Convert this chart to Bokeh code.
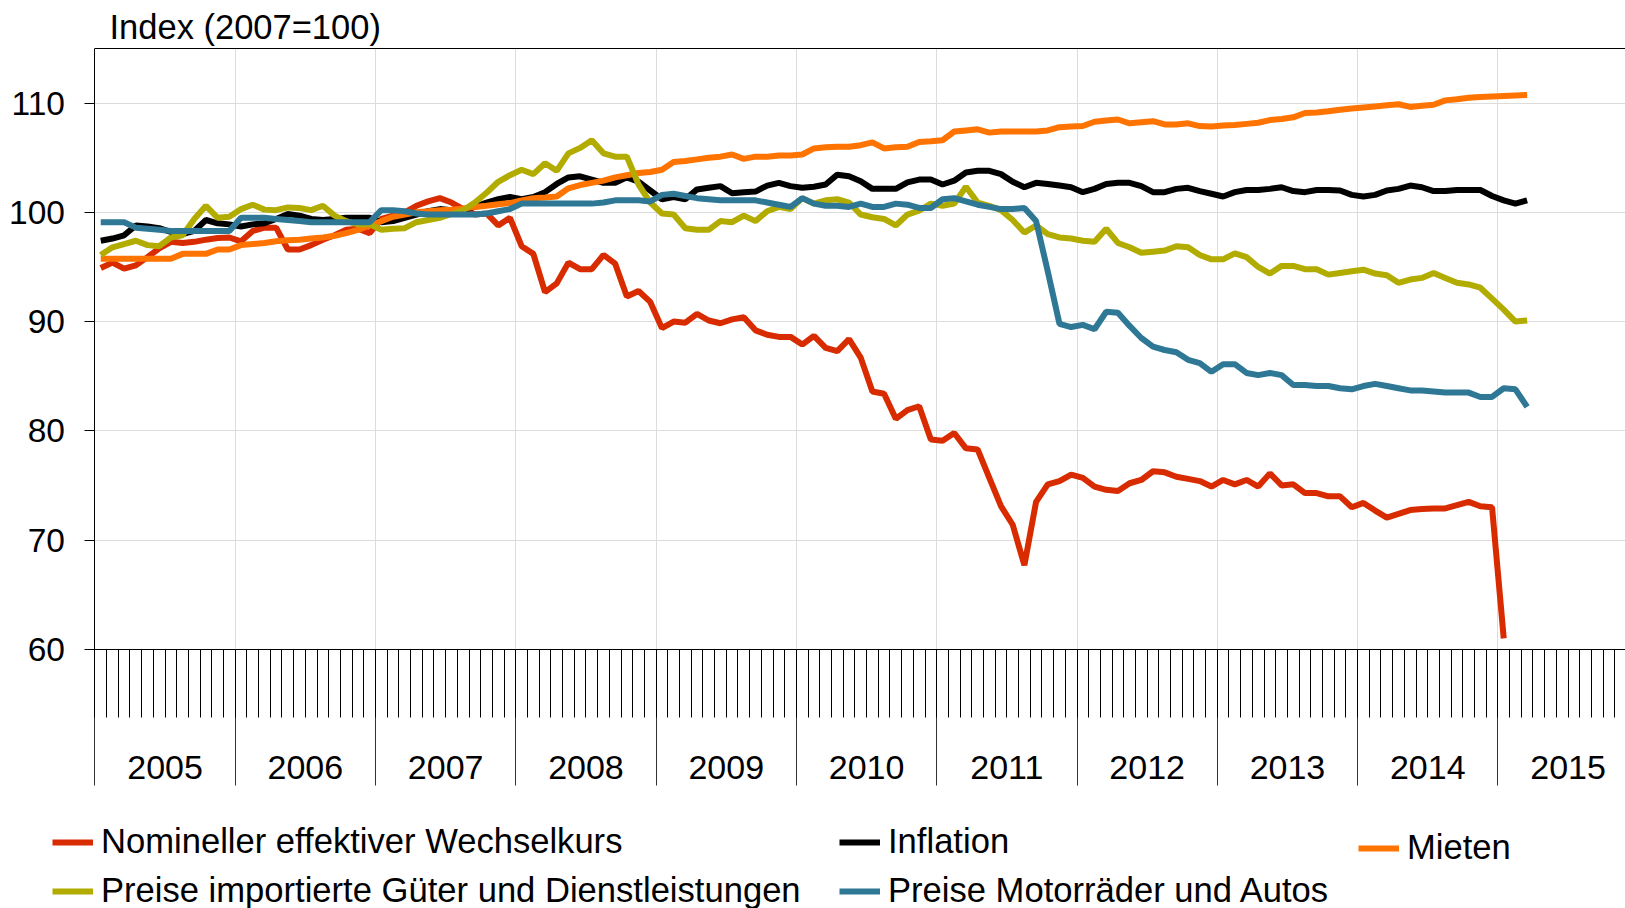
from bokeh.plotting import figure
from bokeh.models import (Range1d, LinearAxis, FixedTicker, Legend, LegendItem,
                          CustomJSTickFormatter, Grid)
from bokeh.embed import file_html
from bokeh.resources import INLINE

# ---------------- data ----------------
start_year = 2005
year_labels = ["2005", "2006", "2007", "2008", "2009", "2010",
               "2011", "2012", "2013", "2014", "2015"]
y_ticks = [60, 70, 80, 90, 100, 110]
y_top = 115
title_text = "Index (2007=100)"

series_names = ["Nomineller effektiver Wechselkurs", "Inflation", "Mieten",
                "Preise importierte Güter und Dienstleistungen",
                "Preise Motorräder und Autos"]
series_colors = ["#D92B00", "#000000", "#FF7300", "#B2AC00", "#2E7896"]

# monthly values, starting January 2005
wechselkurs = [
    94.9, 95.4, 94.85, 95.15, 95.9, 96.7, 97.3, 97.2, 97.3, 97.5, 97.65, 97.7,
    97.35, 98.3, 98.6, 98.6, 96.6, 96.6, 97.0, 97.5, 97.9, 98.4, 98.5, 98.1,
    99.4, 99.7, 100.0, 100.6, 101.0, 101.3, 100.9, 100.3, 99.8, 99.9, 98.8, 99.5,
    96.9, 96.2, 92.7, 93.5, 95.4, 94.8, 94.8, 96.1, 95.3, 92.3, 92.8, 91.8,
    89.4, 90.0, 89.9, 90.7, 90.1, 89.85, 90.2, 90.4, 89.2, 88.8, 88.6, 88.6,
    87.9, 88.7, 87.6, 87.3, 88.4, 86.7, 83.6, 83.4, 81.1, 81.9, 82.25, 79.2,
    79.1, 79.8, 78.4, 78.3, 75.7, 73.1, 71.4, 67.7, 73.5, 75.1, 75.4, 76.0,
    75.7, 74.9, 74.6, 74.5, 75.2, 75.5, 76.3, 76.2, 75.8, 75.6, 75.4, 74.9,
    75.5, 75.1, 75.5, 74.9, 76.1, 75.0, 75.1, 74.3, 74.3, 74.0, 74.0, 73.0,
    73.4, 72.7, 72.05, 72.4, 72.75, 72.85, 72.9, 72.9, 73.2, 73.5, 73.1, 73.0,
    61.0]

inflation = [
    97.4, 97.6, 97.9, 98.8, 98.7, 98.55, 98.2, 98.0, 98.3, 99.3, 99.0, 98.9,
    98.7, 98.9, 99.0, 99.4, 99.85, 99.7, 99.4, 99.3, 99.4, 99.5, 99.5, 99.5,
    99.1, 99.2, 99.5, 99.8, 100.1, 100.3, 100.2, 100.2, 100.5, 100.9, 101.2, 101.4,
    101.2, 101.4, 101.85, 102.6, 103.2, 103.3, 103.0, 102.7, 102.7, 103.2, 102.8, 102.0,
    101.2, 101.4, 101.2, 102.1, 102.25, 102.4, 101.75, 101.85, 101.9, 102.45, 102.7, 102.4,
    102.25, 102.35, 102.55, 103.45, 103.3, 102.85, 102.15, 102.15, 102.15, 102.75, 103.0, 103.0,
    102.55, 102.9, 103.65, 103.8, 103.8, 103.5, 102.8, 102.3, 102.7, 102.6, 102.45, 102.3,
    101.85, 102.15, 102.6, 102.7, 102.7, 102.4, 101.85, 101.85, 102.15, 102.25, 101.95, 101.7,
    101.45, 101.85, 102.05, 102.05, 102.15, 102.3, 101.95, 101.85, 102.05, 102.05, 102.0, 101.6,
    101.45, 101.6, 102.0, 102.15, 102.45, 102.3, 101.95, 101.95, 102.05, 102.05, 102.05, 101.5,
    101.1, 100.8, 101.1]

mieten = [
    95.75, 95.75, 95.75, 95.75, 95.75, 95.75, 95.75, 96.2, 96.2, 96.2, 96.6, 96.6,
    97.0, 97.1, 97.2, 97.35, 97.45, 97.5, 97.6, 97.7, 97.85, 98.1, 98.4, 98.8,
    99.2, 99.6, 99.8, 100.0, 100.1, 100.2, 100.25, 100.35, 100.5, 100.6, 100.75, 100.85,
    101.1, 101.3, 101.35, 101.45, 102.2, 102.5, 102.7, 102.9, 103.2, 103.4, 103.6, 103.7,
    103.9, 104.6, 104.7, 104.85, 105.0, 105.1, 105.3, 104.9, 105.1, 105.1, 105.2, 105.2,
    105.3, 105.85, 105.95, 106.0, 106.0, 106.15, 106.4, 105.85, 105.95, 106.0, 106.45, 106.5,
    106.6, 107.4, 107.5, 107.6, 107.3, 107.4, 107.4, 107.4, 107.4, 107.5, 107.8, 107.85,
    107.9, 108.3, 108.4, 108.5, 108.15, 108.25, 108.35, 108.05, 108.05, 108.15, 107.9, 107.85,
    107.95, 108.0, 108.1, 108.2, 108.45, 108.55, 108.7, 109.1, 109.15, 109.25, 109.4, 109.5,
    109.6, 109.7, 109.8, 109.9, 109.65, 109.75, 109.85, 110.25, 110.35, 110.5, 110.55, 110.6,
    110.65, 110.7, 110.75]

importpreise = [
    96.1, 96.8, 97.1, 97.4, 97.0, 96.9, 97.7, 97.9, 99.4, 100.6, 99.5, 99.6,
    100.3, 100.7, 100.25, 100.2, 100.45, 100.4, 100.2, 100.6, 99.7, 99.2, 98.9, 98.9,
    98.4, 98.5, 98.55, 99.1, 99.3, 99.5, 99.85, 100.2, 100.9, 101.8, 102.8, 103.4,
    103.9, 103.5, 104.5, 103.8, 105.4, 105.9, 106.6, 105.4, 105.1, 105.1, 102.55, 100.9,
    99.9, 99.8, 98.55, 98.4, 98.4, 99.2, 99.1, 99.7, 99.2, 100.1, 100.5, 100.3,
    101.3, 100.8, 101.1, 101.2, 100.9, 99.8, 99.55, 99.4, 98.8, 99.8, 100.15, 100.8,
    100.6, 100.8, 102.35, 100.9, 100.6, 100.2, 99.3, 98.15, 98.8, 98.0, 97.7, 97.6,
    97.4, 97.3, 98.5, 97.2, 96.8, 96.3, 96.4, 96.5, 96.9, 96.8, 96.1, 95.7,
    95.7, 96.25, 95.9, 95.0, 94.4, 95.1, 95.1, 94.8, 94.8, 94.3, 94.45, 94.6,
    94.75, 94.4, 94.25, 93.55, 93.85, 94.0, 94.45, 94.0, 93.55, 93.4, 93.1, 92.1,
    91.1, 90.0, 90.1]

motorraeder = [
    99.1, 99.1, 99.1, 98.6, 98.5, 98.4, 98.3, 98.3, 98.3, 98.3, 98.3, 98.3,
    99.5, 99.5, 99.5, 99.4, 99.3, 99.2, 99.1, 99.1, 99.1, 99.1, 99.1, 99.1,
    100.2, 100.2, 100.1, 99.9, 99.8, 99.8, 99.8, 99.8, 99.8, 99.9, 100.1, 100.3,
    100.8, 100.8, 100.8, 100.8, 100.8, 100.8, 100.8, 100.9, 101.1, 101.1, 101.1, 101.0,
    101.6, 101.7, 101.5, 101.3, 101.2, 101.1, 101.1, 101.1, 101.1, 100.9, 100.7, 100.5,
    101.3, 100.8, 100.6, 100.6, 100.5, 100.8, 100.5, 100.5, 100.8, 100.7, 100.4, 100.4,
    101.2, 101.3, 101.0, 100.7, 100.5, 100.3, 100.3, 100.4, 99.2, 94.6, 89.8, 89.5,
    89.7, 89.3, 90.9, 90.8, 89.6, 88.5, 87.7, 87.4, 87.2, 86.5, 86.2, 85.4,
    86.1, 86.1, 85.3, 85.1, 85.3, 85.1, 84.2, 84.2, 84.1, 84.1, 83.9, 83.8,
    84.1, 84.3, 84.1, 83.9, 83.7, 83.7, 83.6, 83.5, 83.5, 83.5, 83.1, 83.1,
    83.9, 83.8, 82.2]

series_values = [wechselkurs, inflation, mieten, importpreise, motorraeder]


def month_centers(n):
    """x position (in years) of the middle of each month, from Jan 2005."""
    return [start_year + (i + 0.5) / 12.0 for i in range(n)]


n_years = len(year_labels)
year_bounds = [start_year + k for k in range(n_years + 1)]
month_bounds = [start_year + k / 12.0 for k in range(12 * n_years + 1)]
year_mids = [start_year + k + 0.5 for k in range(n_years)]

FONT = "Liberation Sans"

# ---------------- layout ----------------
W, H = 1625, 908
TOP = 48                      # frame top (px)
X0_PX = 94.4                  # pixel position of Jan 2005
PX_PER_YEAR = 140.3
Y60_PX = 648.8                # pixel position of value 60
x_lo = start_year - X0_PX / PX_PER_YEAR
x_hi = start_year + (W - X0_PX) / PX_PER_YEAR
ppu = (Y60_PX - TOP) / (y_top - y_ticks[0])
y_lo = y_top - (H - TOP) / ppu

p = figure(width=W, height=H, output_backend="svg", toolbar_location=None,
           x_range=Range1d(x_lo, x_hi), y_range=Range1d(y_lo, y_top),
           x_axis_type=None, y_axis_type=None,
           min_border_left=0, min_border_right=0, min_border_top=TOP,
           min_border_bottom=0)
p.outline_line_color = None
p.background_fill_color = "white"
p.border_fill_color = "white"

p.title.text = title_text
p.title.text_font = FONT
p.title.text_font_size = "34.5px"
p.title.text_font_style = "normal"
p.title.text_color = "black"
p.title.align = "left"
p.title.offset = 109
p.title.standoff = 6

# grids (limited to the plotting area proper)
p.add_layout(Grid(dimension=1, ticker=FixedTicker(ticks=y_ticks),
                  cross_bounds=(start_year, x_hi),
                  grid_line_color="#DCDCDC", grid_line_width=1))
p.add_layout(Grid(dimension=0, ticker=FixedTicker(ticks=year_bounds[1:]),
                  cross_bounds=(y_ticks[0], y_top),
                  grid_line_color="#DCDCDC", grid_line_width=1))

empty = CustomJSTickFormatter(code="return ''")

# y axis
yax = LinearAxis(ticker=FixedTicker(ticks=y_ticks), fixed_location=start_year,
                 bounds=(y_ticks[0], y_top),
                 major_tick_out=10, major_tick_in=0,
                 minor_tick_out=0, minor_tick_in=0,
                 major_label_text_font=FONT, major_label_text_font_size="33.5px",
                 major_label_text_color="black", major_label_standoff=20,
                 axis_line_color="black", major_tick_line_color="black")
p.add_layout(yax, "left")

# x axis: month ticks and year separators
xa = LinearAxis(ticker=FixedTicker(ticks=year_bounds, minor_ticks=month_bounds),
                fixed_location=y_ticks[0], bounds=(start_year, x_hi),
                formatter=empty,
                major_tick_out=136, major_tick_in=0,
                minor_tick_out=68, minor_tick_in=0,
                axis_line_color="black", major_tick_line_color="#333333",
                minor_tick_line_color="black")
p.add_layout(xa, "below")

# x axis: year labels centred in each year
year_fmt = CustomJSTickFormatter(args=dict(labels=year_labels, start=start_year),
                                 code="const k = Math.round(tick - 0.5) - start; "
                                      "return (k >= 0 && k < labels.length) ? labels[k] : '';")
xb = LinearAxis(ticker=FixedTicker(ticks=year_mids), formatter=year_fmt,
                fixed_location=y_ticks[0], bounds=(start_year, x_hi),
                major_tick_out=0, major_tick_in=0, minor_tick_out=0, minor_tick_in=0,
                axis_line_color=None,
                major_label_text_font=FONT, major_label_text_font_size="34px",
                major_label_text_color="black", major_label_standoff=107)
p.add_layout(xb, "below")

# top border
xt = LinearAxis(ticker=FixedTicker(ticks=[]), formatter=empty,
                bounds=(start_year, x_hi),
                major_tick_out=0, major_tick_in=0, minor_tick_out=0, minor_tick_in=0,
                major_label_standoff=0, axis_line_color="black")
p.add_layout(xt, "above")

# lines (drawing order)
renderers = {}
for name, vals, col in zip(series_names, series_values, series_colors):
    r = p.line(month_centers(len(vals)), vals, line_color=col, line_width=6)
    renderers[name] = r


def make_legend(names, loc):
    items = [LegendItem(label=n, renderers=[renderers[n]]) for n in names]
    lg = Legend(items=items, location=loc, orientation="vertical",
                label_text_font=FONT, label_text_font_size="34.6px",
                label_text_color="black",
                glyph_width=41, glyph_height=36, label_height=36,
                label_standoff=8, spacing=10, padding=0, margin=0,
                border_line_color=None, background_fill_alpha=0)
    p.add_layout(lg, "center")


make_legend([series_names[0], series_names[3]], (52, -2))
make_legend([series_names[1], series_names[4]], (839, -2))
make_legend([series_names[2]], (1358, 41))

open("out.html", "w").write(file_html(p, INLINE))
